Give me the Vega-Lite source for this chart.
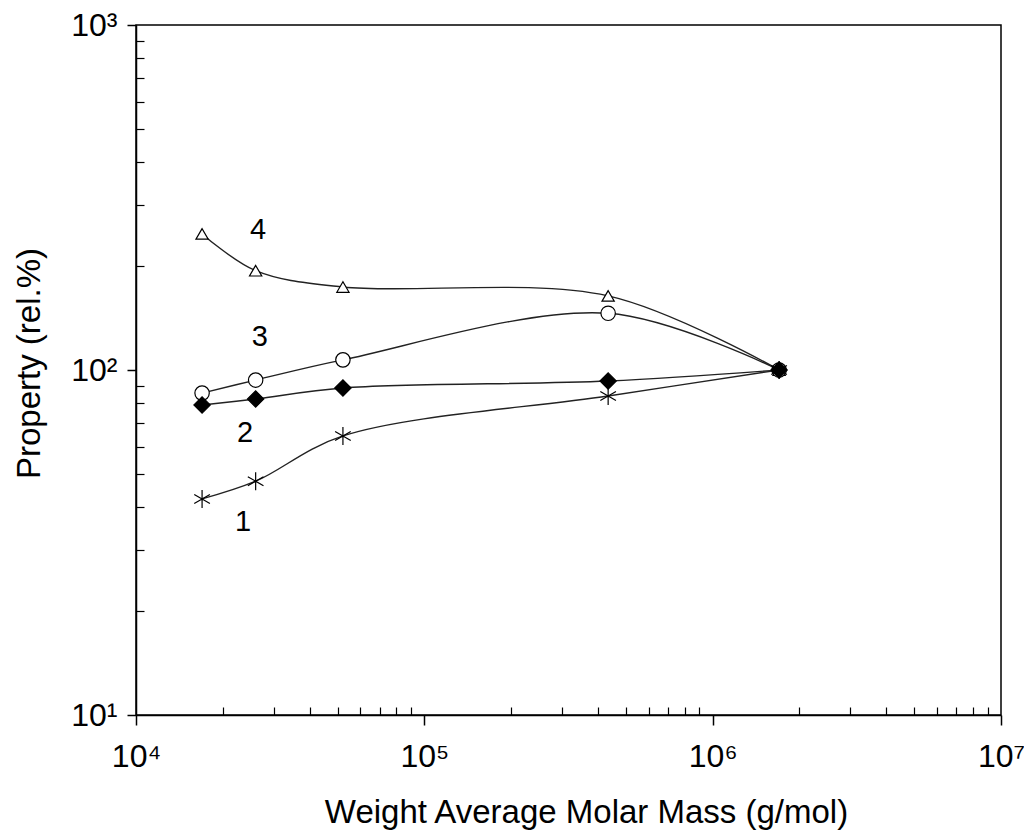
{
  "$schema": "https://vega.github.io/schema/vega-lite/v6.json",
  "width": 865,
  "height": 690,
  "autosize": {"type": "none"},
  "padding": {"left": 136, "top": 25, "right": 23, "bottom": 122},
  "background": "white",
  "config": {
    "view": {"stroke": "black", "strokeWidth": 1.5},
    "font": "Liberation Sans",
    "axis": {
      "grid": false,
      "domainColor": "black",
      "domainWidth": 1.5,
      "tickColor": "black",
      "tickWidth": 1.5,
      "labelColor": "black",
      "labelFont": "Liberation Sans",
      "labelFontSize": 32,
      "labelFlush": false,
      "labelOverlap": false,
      "titleFont": "Liberation Sans",
      "titleFontSize": 33,
      "titleFontWeight": "normal",
      "titleColor": "black"
    }
  },
  "datasets": {
    "pts": [
      {"M": 16950, "P": 248, "s": "4"},
      {"M": 26000, "P": 194, "s": "4"},
      {"M": 52200, "P": 174, "s": "4"},
      {"M": 434000, "P": 164, "s": "4"},
      {"M": 1700000, "P": 100, "s": "4"},
      {"M": 16950, "P": 85.7, "s": "3"},
      {"M": 26000, "P": 93.5, "s": "3"},
      {"M": 52200, "P": 107, "s": "3"},
      {"M": 434000, "P": 146, "s": "3"},
      {"M": 1700000, "P": 100, "s": "3"},
      {"M": 16950, "P": 42.3, "s": "1"},
      {"M": 26000, "P": 47.6, "s": "1"},
      {"M": 52200, "P": 64.4, "s": "1"},
      {"M": 434000, "P": 84.1, "s": "1"},
      {"M": 1700000, "P": 100, "s": "1"},
      {"M": 16950, "P": 79.2, "s": "2"},
      {"M": 26000, "P": 82.4, "s": "2"},
      {"M": 52200, "P": 88.7, "s": "2"},
      {"M": 434000, "P": 92.9, "s": "2"},
      {"M": 1700000, "P": 100, "s": "2"}
    ],
    "labels": [
      {"M": 26500, "P": 255, "t": "4"},
      {"M": 26900, "P": 125, "t": "3"},
      {"M": 23900, "P": 65.6, "t": "2"},
      {"M": 23500, "P": 36.2, "t": "1"}
    ]
  },
  "resolve": {"axis": {"x": "independent", "y": "independent"}},
  "layer": [
    {
      "data": {"name": "pts"},
      "mark": {"type": "line", "interpolate": "catmull-rom", "color": "#222222", "strokeWidth": 1.4},
      "encoding": {
        "x": {
          "field": "M", "type": "quantitative",
          "scale": {"type": "log", "domain": [10000, 10000000], "nice": false},
          "axis": {
            "orient": "bottom", "title": null, "labels": false, "domain": false,
            "tickSize": -8, "tickWidth": 1.2,
            "values": [20000, 30000, 40000, 50000, 60000, 70000, 80000, 90000, 200000, 300000, 400000, 500000, 600000, 700000, 800000, 900000, 2000000, 3000000, 4000000, 5000000, 6000000, 7000000, 8000000, 9000000]
          }
        },
        "y": {
          "field": "P", "type": "quantitative",
          "scale": {"type": "log", "domain": [10, 1000], "nice": false},
          "axis": {
            "orient": "left", "title": null, "labels": false, "domain": false,
            "tickSize": -8, "tickWidth": 1.2,
            "values": [20, 30, 40, 50, 60, 70, 80, 90, 200, 300, 400, 500, 600, 700, 800, 900]
          }
        },
        "detail": {"field": "s"}
      }
    },
    {
      "mark": {"type": "rule", "color": "black", "strokeWidth": 1.3, "strokeDash": [12, 16]},
      "encoding": {
        "y": {"datum": 100, "type": "quantitative", "scale": {"type": "log", "domain": [10, 1000], "nice": false}, "axis": null}
      }
    },
    {
      "data": {"name": "pts"},
      "mark": {"type": "point", "filled": true, "stroke": "black", "strokeWidth": 1.2, "opacity": 1},
      "encoding": {
        "x": {
          "field": "M", "type": "quantitative",
          "scale": {"type": "log", "domain": [10000, 10000000], "nice": false},
          "axis": {
            "orient": "bottom",
            "title": "Weight Average Molar Mass (g/mol)",
            "values": [10000, 100000, 1000000, 10000000],
            "tickSize": 10,
            "labelPadding": 16,
            "titlePadding": 24,
            "titleX": 450,
            "titleAlign": "center",
            "labelExpr": "datum.value == 10000 ? '10⁴' : datum.value == 100000 ? '10⁵' : datum.value == 1000000 ? '10⁶' : '10⁷'"
          }
        },
        "y": {
          "field": "P", "type": "quantitative",
          "scale": {"type": "log", "domain": [10, 1000], "nice": false},
          "axis": {
            "orient": "left",
            "title": "Property (rel.%)",
            "values": [10, 100, 1000],
            "tickSize": 9,
            "labelPadding": 10,
            "titlePadding": 24,
            "titleY": 338,
            "titleAlign": "center",
            "labelExpr": "datum.value == 10 ? '10¹' : datum.value == 100 ? '10²' : '10³'"
          }
        },
        "shape": {
          "field": "s", "type": "nominal", "legend": null,
          "scale": {"domain": ["1", "2", "3", "4"], "range": ["M0,-1L0,1M-0.87,-0.5L0.87,0.5M-0.87,0.5L0.87,-0.5", "diamond", "circle", "triangle-up"]}
        },
        "fill": {
          "field": "s", "type": "nominal", "legend": null,
          "scale": {"domain": ["1", "2", "3", "4"], "range": ["white", "black", "white", "white"]}
        },
        "size": {
          "field": "s", "type": "nominal", "legend": null,
          "scale": {"domain": ["1", "2", "3", "4"], "range": [324, 150, 130, 140]}
        }
      }
    },
    {
      "data": {"name": "labels"},
      "mark": {"type": "text", "fontSize": 29, "font": "Liberation Sans", "color": "black"},
      "encoding": {
        "x": {"field": "M", "type": "quantitative", "scale": {"type": "log", "domain": [10000, 10000000], "nice": false}, "axis": null},
        "y": {"field": "P", "type": "quantitative", "scale": {"type": "log", "domain": [10, 1000], "nice": false}, "axis": null},
        "text": {"field": "t"}
      }
    }
  ]
}
